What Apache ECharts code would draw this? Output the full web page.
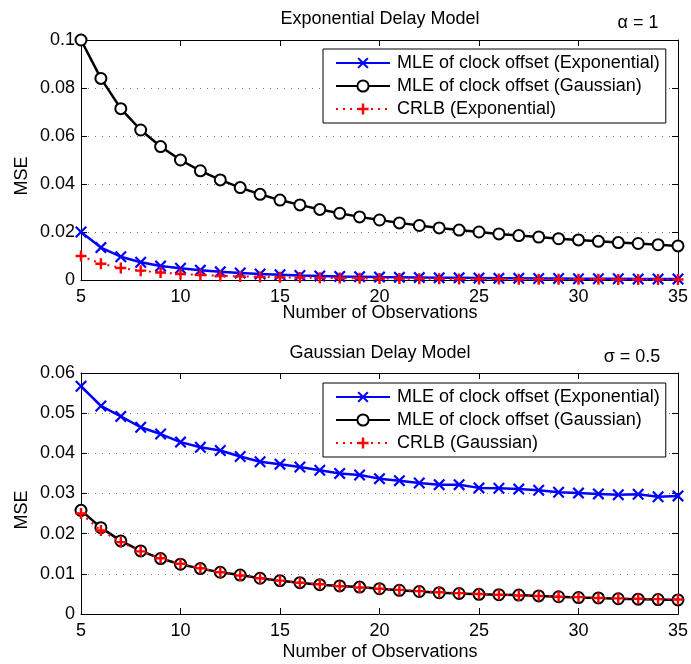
<!DOCTYPE html>
<html><head><meta charset="utf-8">
<script src="https://cdn.jsdelivr.net/npm/echarts@6/dist/echarts.min.js"></script>
<style>html,body{margin:0;padding:0;background:#fff}#c{width:691px;height:664px}</style>
</head><body><div id="c"></div>
<script>
// Number of observations (x values)
const obs = [5,6,7,8,9,10,11,12,13,14,15,16,17,18,19,20,21,22,23,24,25,26,27,28,29,30,31,32,33,34,35];

// Top: Exponential delay model (alpha = 1)
const expModel_mleExp = [0.0200,0.0135,0.0097,0.0074,0.0058,0.0049,0.0041,0.0034,0.0029,0.0025,0.0022,0.0019,0.0017,0.0015,0.0014,0.0012,0.0011,0.0010,0.0009,0.0009,0.0008,0.0007,0.0007,0.0006,0.0006,0.0005,0.0005,0.0005,0.0004,0.0004,0.0004];
const expModel_mleGauss = [0.1000,0.0840,0.0714,0.0625,0.0556,0.0500,0.0455,0.0417,0.0385,0.0357,0.0333,0.0313,0.0294,0.0278,0.0263,0.0250,0.0238,0.0227,0.0217,0.0208,0.0200,0.0192,0.0185,0.0179,0.0172,0.0167,0.0161,0.0156,0.0152,0.0147,0.0142];
const expModel_crlb = [0.0100,0.0068,0.0050,0.0039,0.0031,0.0025,0.0021,0.0017,0.0015,0.0013,0.0011,0.0010,0.0009,0.0008,0.0007,0.0006,0.0006,0.0005,0.0005,0.0004,0.0004,0.0004,0.0003,0.0003,0.0003,0.0003,0.0003,0.0002,0.0002,0.0002,0.0002];

// Bottom: Gaussian delay model (sigma = 0.5)
const gaussModel_mleExp = [0.0567,0.0518,0.0492,0.0465,0.0448,0.0428,0.0415,0.0407,0.0392,0.0379,0.0373,0.0366,0.0358,0.0350,0.0346,0.0337,0.0332,0.0326,0.0322,0.0322,0.0314,0.0313,0.0311,0.0308,0.0303,0.0301,0.0299,0.0297,0.0298,0.0292,0.0294];
const gaussModel_mleGauss = [0.0258,0.0215,0.0182,0.0157,0.0138,0.0124,0.0113,0.0104,0.0097,0.0089,0.0083,0.0078,0.0073,0.0070,0.0067,0.0063,0.0059,0.0056,0.0053,0.0051,0.0049,0.0048,0.0047,0.0045,0.0043,0.0041,0.0040,0.0038,0.0037,0.0036,0.0035];
const gaussModel_crlb = [0.0250,0.0208,0.0179,0.0156,0.0139,0.0125,0.0114,0.0104,0.0096,0.0089,0.0083,0.0078,0.0074,0.0069,0.0066,0.0063,0.0060,0.0057,0.0054,0.0052,0.0050,0.0048,0.0046,0.0045,0.0043,0.0042,0.0040,0.0039,0.0038,0.0037,0.0036];

const NAME_EXP = 'MLE of clock offset (Exponential)';
const NAME_GAUSS = 'MLE of clock offset (Gaussian)';
const NAME_CRLB_EXP = 'CRLB (Exponential)';
const NAME_CRLB_GAUSS = 'CRLB (Gaussian)';

const FONT = '"Liberation Sans", Arial, Helvetica, sans-serif';
const FS = 18;
const CROSS = 'path://M0,1.3L1.3,0L5,3.7L8.7,0L10,1.3L6.3,5L10,8.7L8.7,10L5,6.3L1.3,10L0,8.7L3.7,5Z';
const PLUS = 'path://M3.9,0H6.1V3.9H10V6.1H6.1V10H3.9V6.1H0V3.9H3.9Z';

function pairs(v){ return obs.map((x,i)=>[x,v[i]]); }

const grids = [
  {left:81, top:40, width:597, height:240},
  {left:81, top:373, width:597, height:241}
];

function bottomX(gi){
  return {type:'value', gridIndex:gi, min:5, max:35, interval:5, position:'bottom',
    axisLine:{show:true, onZero:false, lineStyle:{color:'#000', width:1}},
    axisTick:{show:true, inside:true, length:6, lineStyle:{color:'#000'}},
    axisLabel:{show:true, margin:8, color:'#000', fontSize:FS, fontFamily:FONT},
    splitLine:{show:false}};
}
function topX(gi){
  return {type:'value', gridIndex:gi, min:5, max:35, interval:5, position:'top',
    axisLine:{show:true, onZero:false, lineStyle:{color:'#000', width:1}},
    axisTick:{show:true, inside:true, length:6, lineStyle:{color:'#000'}},
    axisLabel:{show:false}, splitLine:{show:false}};
}
function leftY(gi, max, interval){
  return {type:'value', gridIndex:gi, min:0, max:max, interval:interval, position:'left',
    axisLine:{show:true, onZero:false, lineStyle:{color:'#000', width:1}},
    axisTick:{show:true, inside:true, length:6, lineStyle:{color:'#000'}},
    axisLabel:{show:true, margin:6, color:'#000', fontSize:FS, fontFamily:FONT},
    splitLine:{show:true, lineStyle:{color:'#777', width:1, type:[1,6]}}};
}
function rightY(gi, max, interval){
  return {type:'value', gridIndex:gi, min:0, max:max, interval:interval, position:'right',
    axisLine:{show:true, onZero:false, lineStyle:{color:'#000', width:1}},
    axisTick:{show:true, inside:true, length:6, lineStyle:{color:'#000'}},
    axisLabel:{show:false}, splitLine:{show:false}};
}

function sExp(name, xi, yi, data){
  return {type:'line', name:name, xAxisIndex:xi, yAxisIndex:yi, data:pairs(data),
    symbol:CROSS, symbolSize:12, showAllSymbol:true,
    lineStyle:{color:'#0000ff', width:2.5}, itemStyle:{color:'#0000ff', borderWidth:0},
    z:2, emphasis:{disabled:true}};
}
function sGauss(name, xi, yi, data){
  return {type:'line', name:name, xAxisIndex:xi, yAxisIndex:yi, data:pairs(data),
    symbol:'emptyCircle', symbolSize:11, showAllSymbol:true,
    lineStyle:{color:'#000', width:2.5}, itemStyle:{color:'#000', borderColor:'#000', borderWidth:2},
    z:3, emphasis:{disabled:true}};
}
function sCrlb(name, xi, yi, data){
  return {type:'line', name:name, xAxisIndex:xi, yAxisIndex:yi, data:pairs(data),
    symbol:PLUS, symbolSize:11, showAllSymbol:true,
    lineStyle:{color:'#ff0000', width:2, type:[2,5]}, itemStyle:{color:'#ff0000', borderWidth:0},
    z:4, emphasis:{disabled:true}};
}

function legendFor(top, names){
  return {data:names, left:323, top:top, orient:'vertical',
    backgroundColor:'#fff', borderColor:'#000', borderWidth:1, borderRadius:0,
    padding:[5,6,5,12], itemGap:5, itemWidth:54, itemHeight:14,
    selectedMode:false,
    textStyle:{color:'#000', fontSize:FS, fontFamily:FONT, lineHeight:18, padding:[0,0,0,2]}};
}

function txt(x, y, s, rot){
  return {type:'text', x:x, y:y, rotation:rot||0,
    style:{text:s, fill:'#000', font:FS+'px '+FONT, align:'center', verticalAlign:'middle',
      textAlign:'center', textVerticalAlign:'middle'}};
}

const chart = echarts.init(document.getElementById('c'), null, {renderer:'canvas'});
chart.setOption({
  animation:false,
  backgroundColor:'#fff',
  grid:grids,
  xAxis:[bottomX(0), topX(0), bottomX(1), topX(1)],
  yAxis:[leftY(0,0.1,0.02), rightY(0,0.1,0.02), leftY(1,0.06,0.01), rightY(1,0.06,0.01)],
  legend:[
    legendFor(49, [NAME_EXP, NAME_GAUSS, NAME_CRLB_EXP]),
    legendFor(383, [NAME_EXP, NAME_GAUSS, NAME_CRLB_GAUSS])
  ],
  series:[
    sExp(NAME_EXP, 0, 0, expModel_mleExp),
    sGauss(NAME_GAUSS, 0, 0, expModel_mleGauss),
    sCrlb(NAME_CRLB_EXP, 0, 0, expModel_crlb),
    sExp(NAME_EXP, 2, 2, gaussModel_mleExp),
    sGauss(NAME_GAUSS, 2, 2, gaussModel_mleGauss),
    sCrlb(NAME_CRLB_GAUSS, 2, 2, gaussModel_crlb)
  ],
  graphic:[
    txt(380, 19, 'Exponential Delay Model'),
    txt(638, 23, 'α = 1'),
    txt(380, 313, 'Number of Observations'),
    txt(22, 176, 'MSE', Math.PI/2),
    txt(380, 353, 'Gaussian Delay Model'),
    txt(632, 357, 'σ = 0.5'),
    txt(380, 652, 'Number of Observations'),
    txt(22, 510, 'MSE', Math.PI/2)
  ]
});
</script></body></html>
